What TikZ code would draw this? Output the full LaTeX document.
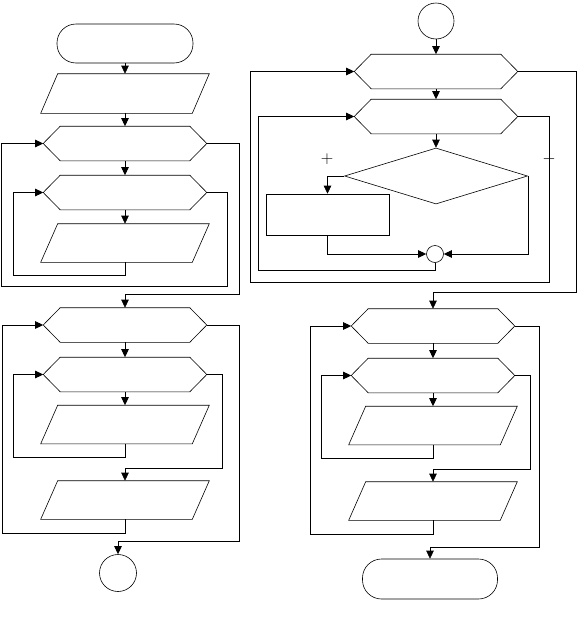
\documentclass[tikz,border=0pt]{standalone}
\usepackage{tikz,amsmath}
\usetikzlibrary{calc, positioning}
\usetikzlibrary{arrows.meta, shapes.geometric}

\tikzset{
    every path/.style={line width=0.6pt},
    flow/.style={-{Triangle[length=8pt,width=7.5pt]}},
    termbox/.style={draw, rectangle, rounded corners=19pt, minimum width=136pt, minimum height=39pt},
    joint/.style={draw, circle, inner sep=0pt},
    procbox/.style={draw, rectangle, inner sep=0pt, minimum width=123pt, minimum height=41pt},
    decide/.style={draw, diamond, inner sep=0pt, minimum width=183pt, minimum height=56pt},
    signlabel/.style={font=\LARGE, inner sep=0pt},
    loophex/.style={inner sep=0pt, minimum width=163pt, minimum height=34pt,
        append after command={\pgfextra{\let\hexnode\tikzlastnode
            \draw (\hexnode.west) -- ([xshift=17pt]\hexnode.north west)
                -- ([xshift=-17pt]\hexnode.north east) -- (\hexnode.east)
                -- ([xshift=-17pt]\hexnode.south east)
                -- ([xshift=17pt]\hexnode.south west) -- cycle;}}},
    iobox/.style={inner sep=0pt, minimum width=168pt, minimum height=38pt,
        append after command={\pgfextra{\let\ionode\tikzlastnode
            \draw (\ionode.south west) -- ([xshift=17pt]\ionode.north west)
                -- (\ionode.north east) -- ([xshift=-17pt]\ionode.south east)
                -- cycle;}}},
}

\begin{document}
\begin{tikzpicture}[x=1pt, y=-1pt]
    \useasboundingbox (0,0) rectangle (577,627);

    % left column
    \node[termbox] (begin) at (125,43.5) {};
    \node[iobox, minimum height=39pt] (read1) at (125,93.5) {};
    \node[loophex] (hexA) at (125,143.5) {};
    \node[loophex] (hexB) at (125,192.5) {};
    \node[iobox] (out1) at (125,243) {};
    \node[loophex] (hexC) at (125,325) {};
    \node[loophex] (hexD) at (125,374.5) {};
    \node[iobox] (out2) at (125,424.5) {};
    \node[iobox] (out3) at (125,500) {};
    \node[joint, minimum size=37pt] (conn1) at (118,573) {};

    % right column
    \node[joint, minimum size=36pt] (conn2) at (436,21) {};
    \node[loophex] (hexE) at (436,71.5) {};
    \node[loophex] (hexF) at (436,116.5) {};
    \node[decide] (cond) at (436,176) {};
    \node[procbox] (proc) at (327.5,214.5) {};
    \node[joint, minimum size=17pt] (merge) at (435,254) {};
    \node[loophex] (hexG) at (433,326) {};
    \node[loophex] (hexH) at (433,375.5) {};
    \node[iobox] (out4) at (433,425.5) {};
    \node[iobox] (out5) at (433,501) {};
    \node[termbox, minimum width=135pt, minimum height=40pt] (finish) at (430,579) {};

    \node[signlabel] (plus) at (327,159) {$+$};
    \node[signlabel] (minus) at (549,159) {$-$};

    \draw[flow] (begin) -- (read1);
    \draw[flow] (read1) -- (hexA);
    \draw[flow] (hexA) -- (hexB);
    \draw[flow] (hexB) -- (out1);
    \draw[flow] (out1.south) -- ++(0,13) -| ([xshift=-30pt]hexB.west) -- (hexB.west);
    \draw[flow] (hexB.east) -- ++(20,0) -- ++(0,94) -| ([xshift=-42pt]hexA.west) -- (hexA.west);
    \draw[flow] (hexA.east) -- ++(32,0) |- ([yshift=13pt]hexC.north) -- (hexC.north);
    \draw[flow] (hexC) -- (hexD);
    \draw[flow] (hexD) -- (out2);
    \draw[flow] (out2.south) -- ++(0,13) -| ([xshift=-30pt]hexD.west) -- (hexD.west);
    \draw[flow] (hexD.east) -- ++(15,0) |- ([yshift=12pt]out3.north) -- (out3.north);
    \draw[flow] (out3.south) -- ++(0,14) -| ([xshift=-41pt]hexC.west) -- (hexC.west);
    \draw[flow] (hexC.east) -- ++(32,0) |- ([yshift=13pt]conn1.north) -- (conn1.north);

    \draw[flow] (conn2) -- (hexE);
    \draw[flow] (hexE) -- (hexF);
    \draw[flow] (hexF) -- (cond);
    \draw[flow] (cond.west) -| (proc.north);
    \draw[flow] (proc.south) |- (merge.west);
    \draw[flow] (cond.east) |- (merge.east);
    \draw[flow] (merge.south) -- ++(0,7) -| ([xshift=-96pt]hexF.west) -- (hexF.west);
    \draw[flow] (hexF.east) -- ++(31,0) -- ++(0,165.5) -| ([xshift=-104pt]hexE.west) -- (hexE.west);
    \draw[flow] (hexE.east) -- ++(58,0) |- ([yshift=16pt]hexG.north) -- (hexG.north);
    \draw[flow] (hexG) -- (hexH);
    \draw[flow] (hexH) -- (out4);
    \draw[flow] (out4.south) -- ++(0,13) -| ([xshift=-30pt]hexH.west) -- (hexH.west);
    \draw[flow] (hexH.east) -- ++(15,0) |- ([yshift=12pt]out5.north) -- (out5.north);
    \draw[flow] (out5.south) -- ++(0,14) -| ([xshift=-41pt]hexG.west) -- (hexG.west);
    \draw[flow] (hexG.east) -- ++(24,0) |- ([yshift=11pt]finish.north) -- (finish.north);
\end{tikzpicture}
\end{document}
